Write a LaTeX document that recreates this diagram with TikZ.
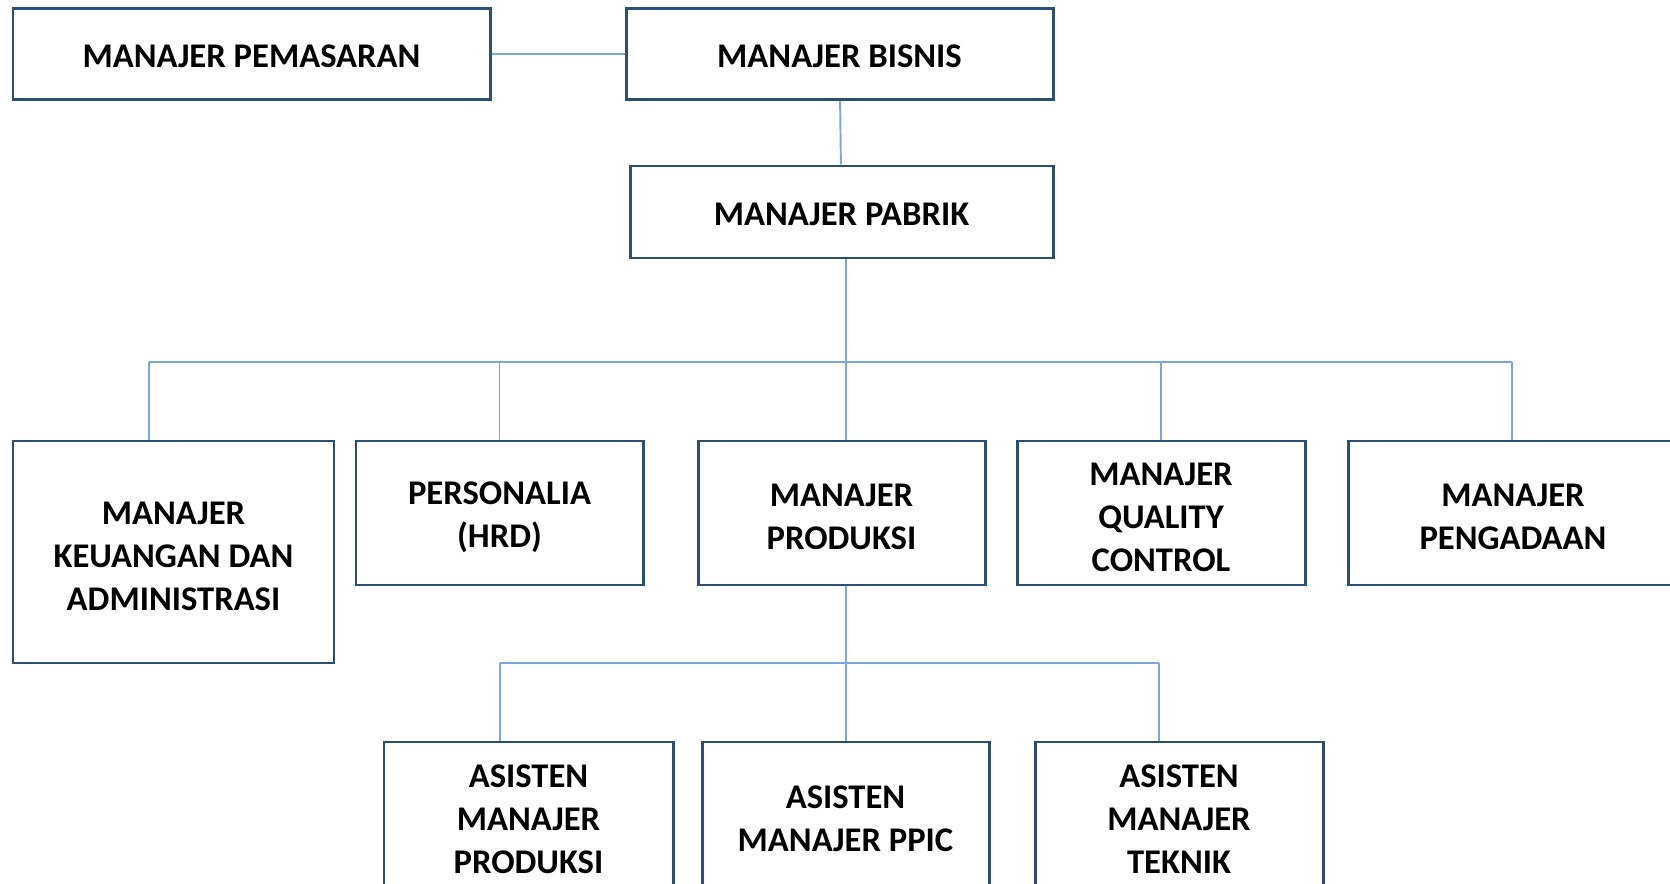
\documentclass[tikz,border=0pt]{standalone}
\usepackage{fontspec}
\setmainfont{Carlito}
\definecolor{boxline}{RGB}{44,78,116}
\definecolor{linkline}{RGB}{125,167,217}
\newcommand{\barisatas}{\rule{0pt}{0.62cm}}

\begin{document}
\begin{tikzpicture}[
    jabatan/.style={draw=boxline,line width=1.7pt,fill=white,align=center,
      inner sep=0pt,font=\fontsize{19.7}{24.5}\selectfont\bfseries,
      execute at begin node={\rule{0pt}{0.53cm}}},
    link/.style={draw=linkline,line width=1.1pt}]
  \useasboundingbox (0,0) rectangle (33.4,-17.68);
  \clip (0,0) rectangle (33.4,-17.68);

  \node (pemasaran) at (5.03,-1.08) [jabatan,minimum width=9.54cm,minimum height=1.83cm]{MANAJER PEMASARAN};
  \node (bisnis) at (16.79,-1.08) [jabatan,minimum width=8.54cm,minimum height=1.83cm]{MANAJER BISNIS};
  \node (pabrik) at (16.83,-4.24) [jabatan,minimum width=8.46cm,minimum height=1.84cm]{MANAJER PABRIK};

  \node (keuangan) at (3.47,-11.04) [jabatan,minimum width=6.42cm,minimum height=4.44cm]{\barisatas MANAJER\\KEUANGAN DAN\\ADMINISTRASI};
  \node (personalia) at (9.99,-10.26) [jabatan,minimum width=5.74cm,minimum height=2.88cm]{\barisatas PERSONALIA\\(HRD)};
  \node (produksi) at (16.83,-10.26) [jabatan,minimum width=5.74cm,minimum height=2.88cm]{\barisatas MANAJER\\PRODUKSI};
  \node (qc) at (23.22,-10.26) [jabatan,minimum width=5.76cm,minimum height=2.88cm]{\barisatas MANAJER\\QUALITY\\CONTROL};
  \node (pengadaan) at (30.26,-10.26) [jabatan,minimum width=6.6cm,minimum height=2.88cm]{\barisatas MANAJER\\PENGADAAN};

  \node (asprod) at (10.57,-16.3) [jabatan,minimum width=5.78cm,minimum height=2.92cm]{\barisatas ASISTEN\\MANAJER\\PRODUKSI};
  \node (ppic) at (16.91,-16.3) [jabatan,minimum width=5.74cm,minimum height=2.92cm]{\barisatas ASISTEN\\MANAJER PPIC};
  \node (teknik) at (23.58,-16.3) [jabatan,minimum width=5.76cm,minimum height=2.92cm]{\barisatas ASISTEN\\MANAJER\\TEKNIK};

  % garis penghubung
  \coordinate (bus) at (16.92,-7.24);
  \coordinate (busL) at (2.98,-7.24);
  \coordinate (busR) at (30.24,-7.24);
  \coordinate (sub) at (16.92,-13.26);
  \coordinate (subL) at (10.0,-13.26);
  \coordinate (subR) at (23.18,-13.26);

  \draw[link] (pemasaran) -- (bisnis);
  \draw[link] (bisnis) -- (pabrik);
  \draw[link] (pabrik.south -| bus) -- (bus);

  \draw[link] (busL) -- (busR);
  \draw[link] (busL) -- (busL |- keuangan.north);
  \draw[link] (personalia.north) -- (personalia.north |- bus);
  \draw[link] (bus) -- (bus |- produksi.north);
  \draw[link] (qc.north) -- (qc.north |- bus);
  \draw[link] (busR) -- (busR |- pengadaan.north);

  \draw[link] (produksi.south -| sub) -- (sub);
  \draw[link] (subL) -- (subR);
  \draw[link] (subL) -- (subL |- asprod.north);
  \draw[link] (sub) -- (sub |- ppic.north);
  \draw[link] (subR) -- (subR |- teknik.north);

\end{tikzpicture}
\end{document}
